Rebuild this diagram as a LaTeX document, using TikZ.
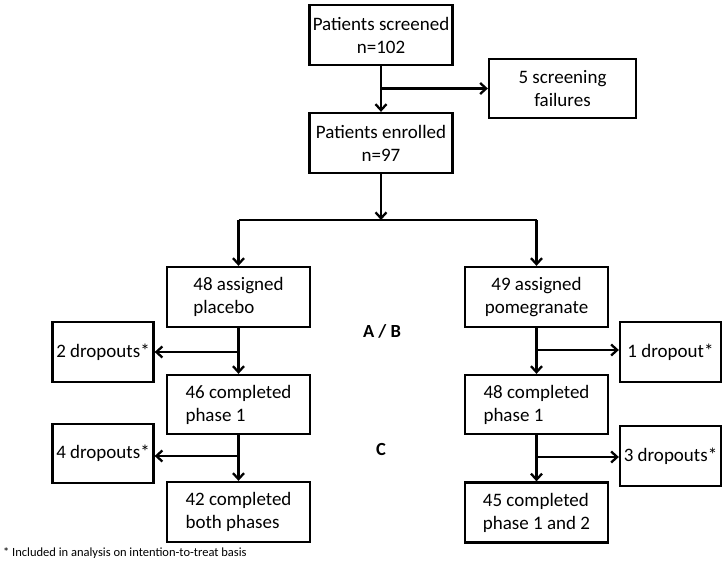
\documentclass[tikz,border=0pt]{standalone}
\usepackage{fontspec}
\setmainfont{Carlito}
\usetikzlibrary{arrows.meta}
\begin{document}
\begin{tikzpicture}[x=1pt,y=-1pt,
  box/.style={draw,line width=2.3pt,rectangle,inner sep=0pt,align=center,
     font=\fontsize{19}{23}\selectfont,minimum width=143pt,minimum height=60pt},
  lbox/.style={box,align=left},
  dbox/.style={box,minimum width=101pt},
  conn/.style={line width=2.3pt},
  arr/.style={conn,-{Straight Barb[length=6pt,width=11pt,line width=2.3pt]}},
  lbl/.style={font=\fontsize{18.5}{21}\selectfont\bfseries}]
\useasboundingbox (0,0) rectangle (726,565);
\node[box] (scr) at (381,35) {Patients screened\\n=102};
\node[box,minimum width=147pt,minimum height=59pt] (fail) at (562.5,88.5) {5 screening\\failures};
\node[box] (enr) at (381,143) {Patients enrolled\\n=97};
\node[lbox] (pla) at (238.5,297) {48 assigned\\placebo};
\node[box] (pom) at (536.5,297) {49 assigned\\pomegranate};
\node[dbox] (d2) at (103,352) {2 dropouts*};
\node[dbox] (d1) at (670.5,352) {1 dropout*};
\node[lbox,minimum height=59pt] (c46) at (238.5,404.5) {46 completed\\phase 1};
\node[lbox,minimum height=59pt] (c48) at (536.5,404.5) {48 completed\\phase 1};
\node[dbox,minimum height=59pt] (d4) at (103,453.5) {4 dropouts*};
\node[dbox] (d3) at (670.5,456) {3 dropouts*};
\node[lbox] (c42) at (238.5,512) {42 completed\\both phases};
\node[lbox] (c45) at (536.5,512.5) {45 completed\\phase 1 and 2};
\node[lbl] (ab) at (382,331) {A / B};
\node[lbl] (cc) at (381,449) {C};
\node[anchor=west,inner sep=0pt,font=\fontsize{12.5}{14}\selectfont] (foot) at (3,553) {* Included in analysis on intention-to-treat basis};
% connectors
\coordinate (j1) at (scr.south |- fail.west);
\draw[arr] (scr.south) -- (enr.north);
\draw[arr] (j1) -- (fail.west);
\coordinate (b0) at (381,220);
\coordinate (bl) at (pla.north |- b0);
\coordinate (br) at (pom.north |- b0);
\draw[arr] (enr.south) -- (b0);
\draw[conn] (bl) -- (br);
\draw[arr] (bl) -- (pla.north);
\draw[arr] (br) -- (pom.north);
\draw[arr] (pla.south) -- (c46.north);
\draw[arr] (pla.south |- d2.east) -- (d2.east);
\draw[arr] (c46.south) -- (c42.north);
\coordinate (j4) at (238.5,456);
\draw[arr] (j4) -- (j4 -| d4.east);
\draw[arr] (pom.south) -- (c48.north);
\coordinate (j5) at (536.5,350);
\draw[arr] (j5) -- (j5 -| d1.west);
\draw[arr] (c48.south) -- (c45.north);
\coordinate (j6) at (536.5,457);
\draw[arr] (j6) -- (j6 -| d3.west);
\end{tikzpicture}
\end{document}
